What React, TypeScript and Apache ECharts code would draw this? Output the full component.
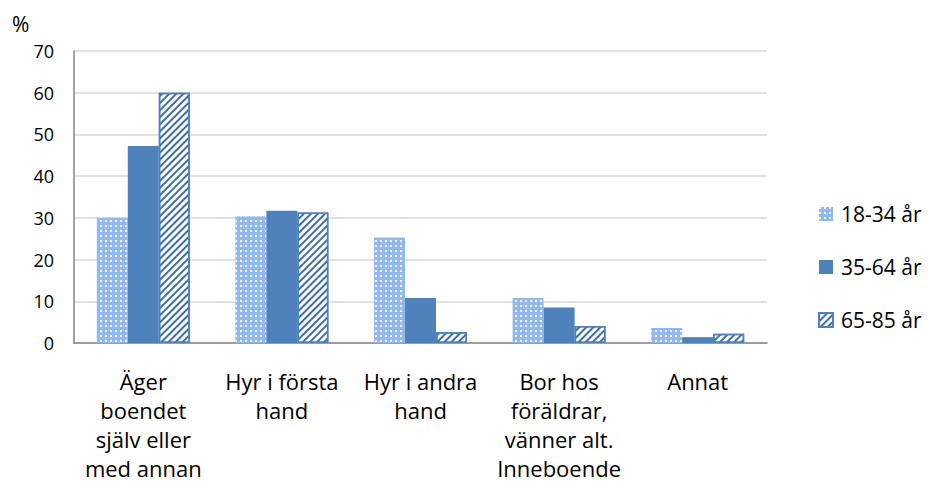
import React, { useEffect, useRef } from "react";
import * as echarts from "echarts";

const categories = [
  "Äger\nboendet\nsjälv eller\nmed annan",
  "Hyr i första\nhand",
  "Hyr i andra\nhand",
  "Bor hos\nföräldrar,\nvänner alt.\nInneboende",
  "Annat",
];
const seriesNames = ["18-34 år", "35-64 år", "65-85 år"];
const values1834 = [30.0, 30.4, 25.3, 10.8, 3.6];
const values3564 = [47.2, 31.7, 10.8, 8.5, 1.4];
const values6585 = [60.0, 31.3, 2.6, 4.1, 2.2];
const yTicks = { min: 0, max: 70, interval: 10 };
const unitLabel = "%";

const FONT = "'Open Sans', 'Noto Sans', sans-serif";
const BLUE = "#4f81bd";

export default function App() {
  const ref = useRef<HTMLDivElement>(null);
  useEffect(() => {
    document.body.style.margin = "0";
    if (!ref.current) return;
    const chart = echarts.init(ref.current, undefined, { renderer: "svg" });
    chart.setOption({
      animation: false,
      backgroundColor: "#ffffff",
      textStyle: { fontFamily: FONT },
      grid: { left: 74, right: 161, top: 51, bottom: 143, containLabel: false },
      graphic: [
        {
          type: "text",
          left: 12,
          top: 13,
          style: { text: unitLabel, fontSize: 21, fontFamily: FONT, fill: "#000" },
        },
      ],
      legend: {
        orient: "vertical",
        left: 813,
        top: 198,
        itemWidth: 14,
        itemHeight: 14,
        itemGap: 31,
        icon: "rect",
        textStyle: {
          fontSize: 21,
          lineHeight: 22,
          color: "#000",
          fontFamily: FONT,
          padding: [0, 0, 0, 3],
        },
        data: seriesNames,
      },
      xAxis: {
        type: "category",
        data: categories,
        axisTick: { show: false },
        axisLine: { lineStyle: { color: "#868686", width: 1.5 } },
        axisLabel: {
          interval: 0,
          margin: 23,
          fontSize: 22,
          lineHeight: 29,
          color: "#000",
          fontFamily: FONT,
          align: "center",
        },
      },
      yAxis: {
        type: "value",
        min: yTicks.min,
        max: yTicks.max,
        interval: yTicks.interval,
        axisLine: { show: true, lineStyle: { color: "#868686", width: 1.5 } },
        axisTick: { show: false },
        axisLabel: { margin: 20, fontSize: 18, color: "#000", fontFamily: FONT },
        splitLine: { lineStyle: { color: "#d9d9d9", width: 1.5 } },
      },
      series: [
        {
          name: seriesNames[0],
          type: "bar",
          data: values1834,
          barWidth: 31,
          barGap: "0%",
          itemStyle: {
            color: "#92b8ec",
            decal: {
              symbol: "rect",
              symbolSize: 1,
              color: "rgba(255,255,255,0.85)",
              dashArrayX: [2, 3],
              dashArrayY: [2, 3],
              rotation: 0,
            },
          },
        },
        {
          name: seriesNames[1],
          type: "bar",
          data: values3564,
          barWidth: 31,
          barGap: "0%",
          itemStyle: { color: BLUE },
        },
        {
          name: seriesNames[2],
          type: "bar",
          data: values6585,
          barWidth: 31,
          barGap: "0%",
          itemStyle: {
            color: "#ffffff",
            borderColor: BLUE,
            borderWidth: 1.5,
            decal: {
              symbol: "rect",
              symbolSize: 1,
              color: "#3f6fa8",
              dashArrayX: [1, 0],
              dashArrayY: [2, 3],
              rotation: -Math.PI / 4,
            },
          },
        },
      ],
    });
    return () => chart.dispose();
  }, []);
  return <div ref={ref} style={{ width: 928, height: 486 }} />;
}
